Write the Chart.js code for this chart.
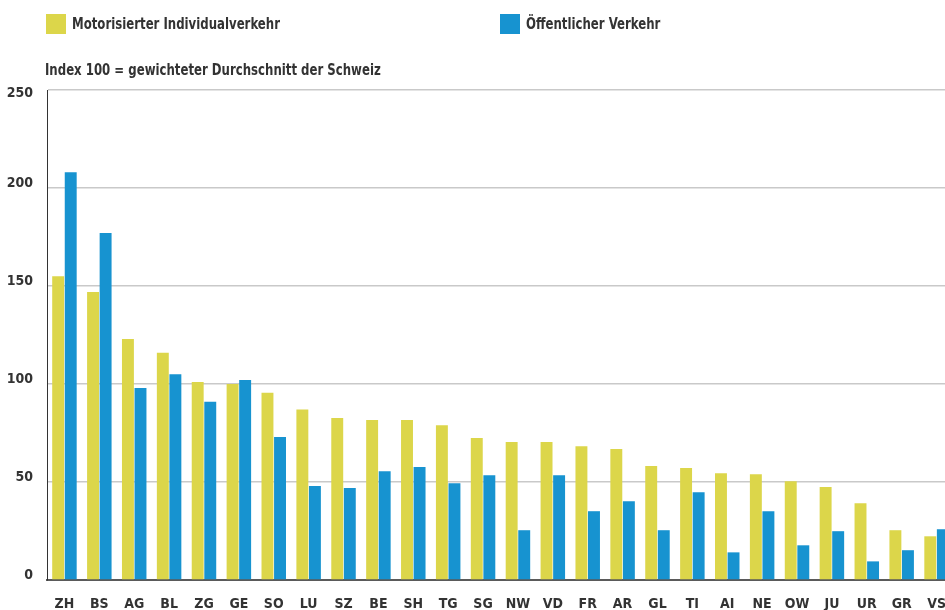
<!DOCTYPE html>
<html>
<head>
<meta charset="utf-8">
<script src="https://cdn.jsdelivr.net/npm/chart.js@4"></script>
<style>
    html, body { margin: 0; padding: 0; background: #fff; overflow: hidden; }
    #wrap { width: 945px; height: 610px; overflow: hidden; }
</style>
</head>
<body>
<div id="wrap"><canvas id="chart" width="954" height="610"></canvas></div>
<script>
const categories = ['ZH', 'BS', 'AG', 'BL', 'ZG', 'GE', 'SO', 'LU', 'SZ', 'BE', 'SH', 'TG', 'SG',
    'NW', 'VD', 'FR', 'AR', 'GL', 'TI', 'AI', 'NE', 'OW', 'JU', 'UR', 'GR', 'VS'];
const mivValues = [155, 147, 123, 116, 101, 100, 95.5, 87, 82.6, 81.6, 81.6, 79, 72.4,
    70.4, 70.4, 68.3, 66.8, 58.1, 57.1, 54.5, 54, 50.4, 47.4, 39.2, 25.4, 22.3];
const oevValues = [208, 177, 98, 105, 91, 102, 73, 48, 47, 55.5, 57.6, 49.4, 53.5,
    25.4, 53.5, 35.1, 40.2, 25.4, 44.8, 14.1, 35.1, 17.7, 24.9, 9.5, 15.2, 25.9];
const yTicks = [0, 50, 100, 150, 200, 250];
const subtitle = 'Index 100 = gewichteter Durchschnitt der Schweiz';

const FONT = '"DejaVu Sans Condensed", sans-serif';
const TEXT = '#333333';

// legend + subtitle drawn by hand, the built-in legend can't space items like this
const headerPlugin = {
    id: 'header',
    afterDraw(chart) {
        const ctx = chart.ctx;
        const items = [{ x: 46 }, { x: 500 }];
        const squeeze = 0.87; // original font is narrower than DejaVu
        ctx.save();
        ctx.font = 'bold 15px ' + FONT;
        ctx.textBaseline = 'middle';
        chart.data.datasets.forEach((ds, i) => {
            const x = items[i].x;
            ctx.fillStyle = ds.backgroundColor;
            ctx.fillRect(x, 14, 20, 20);
            ctx.save();
            ctx.scale(squeeze, 1);
            ctx.fillStyle = TEXT;
            ctx.fillText(ds.label, (x + 26) / squeeze, 25);
            ctx.restore();
        });
        ctx.scale(squeeze, 1);
        ctx.fillStyle = TEXT;
        ctx.fillText(subtitle, 45 / squeeze, 71);
        ctx.restore();
    }
};

new Chart(document.getElementById('chart'), {
    type: 'bar',
    data: {
        labels: categories,
        datasets: [
            { label: 'Motorisierter Individualverkehr', data: mivValues, backgroundColor: '#dcd64a' },
            { label: 'Öffentlicher Verkehr', data: oevValues, backgroundColor: '#1793d0' }
        ]
    },
    options: {
        responsive: false,
        animation: false,
        layout: { padding: { top: 90, left: 0, right: 0, bottom: 0 } },
        datasets: {
            bar: { categoryPercentage: 0.72, barPercentage: 0.95 }
        },
        plugins: {
            legend: { display: false },
            tooltip: { enabled: false }
        },
        scales: {
            x: {
                grid: { display: false },
                border: { display: true, color: '#5a5a5a', width: 2 },
                ticks: {
                    color: TEXT,
                    padding: 8,
                    font: { family: FONT, size: 14, weight: 'bold' }
                },
                afterFit: (scale) => { scale.height = 30; }
            },
            y: {
                min: 0,
                max: 250,
                afterBuildTicks: (scale) => { scale.ticks = yTicks.map(v => ({ value: v })); },
                grid: {
                    drawTicks: false,
                    lineWidth: 1.5,
                    color: (c) => c.tick && c.tick.value === 0 ? '#5a5a5a' : '#c9c9c9'
                },
                border: { display: true, color: '#333333', width: 1 },
                ticks: {
                    color: TEXT,
                    padding: 14,
                    labelOffset: -5,
                    // top label sits under its line, the others sit on theirs
                    callback: (v) => v === 250 ? ['', String(v)] : String(v),
                    font: { family: FONT, size: 14, weight: 'bold' }
                },
                afterFit: (scale) => { scale.width = 47; }
            }
        }
    },
    plugins: [headerPlugin]
});
</script>
</body>
</html>
